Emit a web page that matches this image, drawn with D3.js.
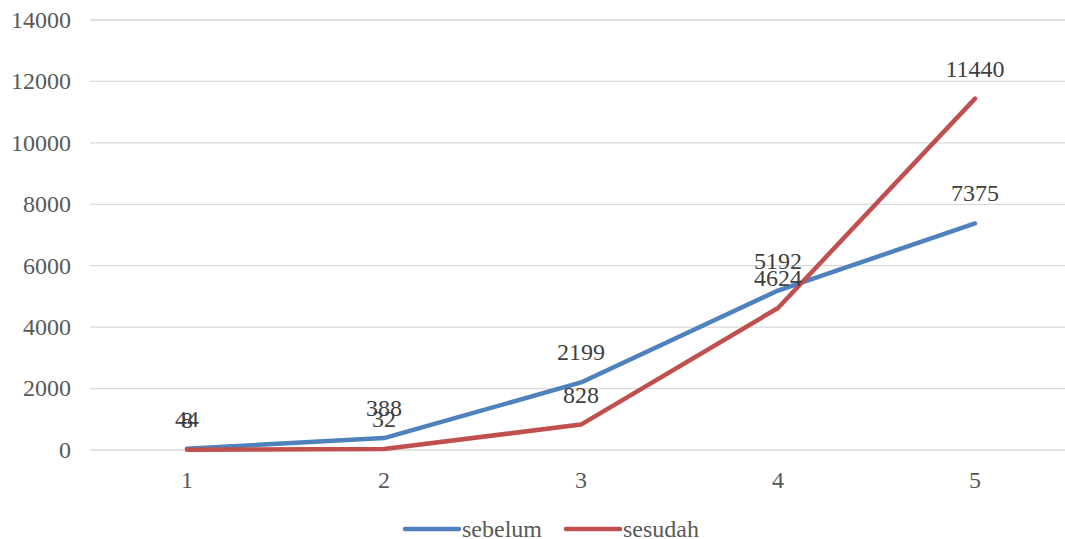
<!DOCTYPE html>
<html><head><meta charset="utf-8">
<script src="https://cdn.jsdelivr.net/npm/d3@7"></script>
<style>body{margin:0;background:#fff}svg{display:block}</style>
</head><body>
<svg id="c" width="1065" height="539"></svg>
<script>
const categories = ["1","2","3","4","5"];
const sebelum = [44, 388, 2199, 5192, 7375];
const sesudah = [8, 32, 828, 4624, 11440];
const yTicks = [0,2000,4000,6000,8000,10000,12000,14000];
const seriesNames = ["sebelum","sesudah"];
const colors = ["#4F81BD","#C0504D"];

const FONT = '"Liberation Serif"';
const svg = d3.select("#c");
const x = d3.scalePoint().domain(categories).range([187, 975]);
const y = d3.scaleLinear().domain([0,14000]).range([450, 20]);

// gridlines
svg.append("g").selectAll("line").data(yTicks).join("line")
  .attr("x1", 90).attr("x2", 1065)
  .attr("y1", d=>y(d)).attr("y2", d=>y(d))
  .attr("stroke", "#d9d9d9").attr("stroke-width", 1.3);

// y tick labels
svg.append("g").selectAll("text").data(yTicks).join("text")
  .attr("x", 71).attr("y", d=>y(d)).attr("dy","0.33em")
  .attr("text-anchor","end").style("font-family",FONT).style("font-size","24px")
  .attr("fill","#595959").text(d=>d);

// x tick labels
svg.append("g").selectAll("text").data(categories).join("text")
  .attr("x", d=>x(d)).attr("y", 488)
  .attr("text-anchor","middle").style("font-family",FONT).style("font-size","24px")
  .attr("fill","#595959").text(d=>d);

const data = [sebelum, sesudah];
const line = d3.line().x((d,i)=>x(categories[i])).y(d=>y(d));
data.forEach((s,k)=>{
  svg.append("path").datum(s).attr("d", line)
    .attr("fill","none").attr("stroke", colors[k]).attr("stroke-width",4.5)
    .attr("stroke-linecap","round").attr("stroke-linejoin","round");
});
data.forEach((s,k)=>{
  svg.append("g").selectAll("text").data(s).join("text")
    .attr("x",(d,i)=>x(categories[i])).attr("y", d=>y(d)-22)
    .attr("text-anchor","middle").style("font-family",FONT).style("font-size","24px")
    .attr("fill","#404040").text(d=>d);
});

// legend
const lx = [405, 566];
seriesNames.forEach((n,k)=>{
  svg.append("line").attr("x1",lx[k]).attr("x2",lx[k]+54).attr("y1",529).attr("y2",529)
    .attr("stroke",colors[k]).attr("stroke-width",4.5).attr("stroke-linecap","round");
  svg.append("text").attr("x",lx[k]+57).attr("y",529).attr("dy","0.33em")
    .style("font-family",FONT).style("font-size","24px").attr("fill","#595959").text(n);
});
</script>
</body></html>
